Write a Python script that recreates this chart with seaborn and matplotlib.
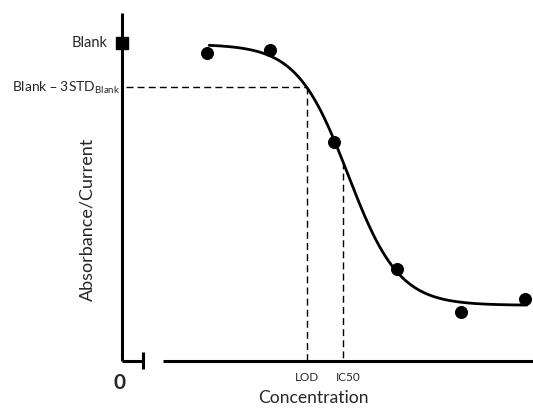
import matplotlib
matplotlib.use("Agg")
import matplotlib.pyplot as plt
import seaborn as sns
import numpy as np
import pandas as pd

# ---- data ----
concentration = [2.06, 3.60, 5.16, 6.70, 8.25, 9.81]
signal = [0.884, 0.892, 0.630, 0.264, 0.140, 0.177]
# 4-parameter logistic fit parameters
fit_top = 0.91
fit_bottom = 0.16
fit_x0 = 5.5
fit_slope = 0.62
fit_range = [2.12, 9.85]
blank_value = 0.914
blank_minus_3std = 0.786
ic50_x = 5.38
x_axis_label = "Concentration"
y_axis_label = "Absorbance/Current"
tick_labels = ["LOD", "IC50"]


def logistic(x):
    return fit_bottom + (fit_top - fit_bottom) / (1 + np.exp((x - fit_x0) / fit_slope))


def inv_logistic(y):
    frac = (fit_top - fit_bottom) / (y - fit_bottom) - 1
    return fit_x0 + fit_slope * np.log(frac)


sns.set_theme(style="white")
plt.rcParams['font.family'] = ['Lato', 'DejaVu Sans']

fig = plt.figure(figsize=(5.33, 4.08), dpi=100)
ax = fig.add_axes([0, 0, 1, 1])
ax.set_xlim(-2.968, 10.0)
ax.set_ylim(-0.135, 1.037)
ax.axis("off")

xs = np.linspace(fit_range[0], fit_range[1], 300)
curve = pd.DataFrame({"x": xs, "y": logistic(xs)})
sns.lineplot(data=curve, x="x", y="y", ax=ax, color="black", lw=2.0, zorder=3)

pts = pd.DataFrame({"x": concentration, "y": signal})
sns.scatterplot(data=pts, x="x", y="y", ax=ax, color="black", s=75,
                edgecolor="black", zorder=4)

# axes drawn as broken axis
ax.plot([0, 0], [0, 1.0], color="black", lw=2.2, solid_capstyle="butt")
ax.plot([0, 0.51], [0, 0], color="black", lw=2.2, solid_capstyle="butt")
ax.plot([0.51, 0.51], [-0.023, 0.026], color="black", lw=2.2, solid_capstyle="butt")
ax.plot([1.0, 10.0], [0, 0], color="black", lw=2.2, solid_capstyle="butt")

# blank marker
ax.plot([0], [blank_value], marker="s", ms=9, color="black", zorder=5)

# dashed guide lines
lod_x = inv_logistic(blank_minus_3std)
dash = dict(color="black", lw=1.0, ls=(0, (5, 3)))
ax.plot([0.1, lod_x], [blank_minus_3std, blank_minus_3std], **dash)
ax.plot([lod_x, lod_x], [blank_minus_3std, 0.0], **dash)
ax.plot([ic50_x, ic50_x], [logistic(ic50_x), 0.0], **dash)

# texts
ax.text(-0.35, blank_value, "Blank", ha="right", va="center", fontsize=10.5)
ax.text(-0.05, blank_minus_3std, r"Blank – 3STD$_{\mathregular{Blank}}$",
        ha="right", va="center", fontsize=10)
ax.text(-0.05, -0.063, "0", ha="center", va="center", fontsize=15, fontweight="bold")
ax.text(lod_x, -0.046, tick_labels[0], ha="center", va="center", fontsize=8.5)
ax.text(ic50_x + 0.12, -0.046, tick_labels[1], ha="center", va="center", fontsize=8.5)
ax.text(4.65, -0.105, x_axis_label, ha="center", va="center", fontsize=12.6)
ax.text(-0.84, 0.407, y_axis_label, ha="center", va="center", rotation=90, fontsize=13)

fig.savefig("out.png", dpi=100)
